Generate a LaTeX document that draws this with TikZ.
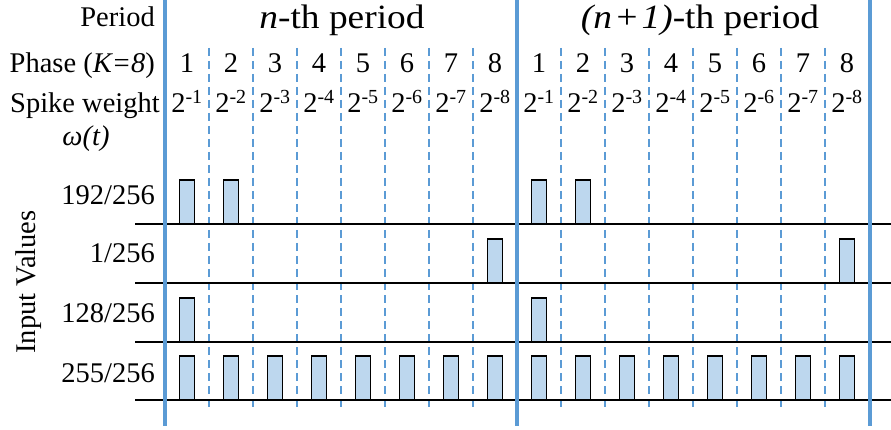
\documentclass[tikz,border=0pt]{standalone}
\usepackage{fontspec}
\setmainfont{Liberation Serif}
\definecolor{pblue}{HTML}{5B9BD5}
\definecolor{barfill}{HTML}{BDD7EE}
\newcommand{\spk}[2]{\draw[spike] ({#1-7.5},#2) rectangle ({#1+7.5},{#2-44});}
\begin{document}
\begin{tikzpicture}[x=1pt,y=-1pt,
  lbl/.style={font=\fontsize{28.5}{32}\selectfont, inner sep=0pt},
  big/.style={font=\fontsize{34}{38}\selectfont, inner sep=0pt},
  periodline/.style={pblue, line width=4pt},
  phaseline/.style={pblue, line width=2.2pt, dash pattern=on 8pt off 5pt},
  axisline/.style={black, line width=2pt},
  spike/.style={draw=black, line width=1.6pt, fill=barfill}]
\useasboundingbox (0,0) rectangle (891,430);
% phase separators
\foreach \p in {0,1}{
  \foreach \k in {1,...,7}{
    \draw[phaseline] ({165+352*\p+44*\k},48) -- ++(0,362);
  }
}
% signal axes
\foreach \b in {224,283,342,400}{
  \draw[axisline] (135,\b) -- (891,\b);
}
% spikes
\foreach \p in {0,1}{
  \pgfmathsetmacro{\xo}{165+352*\p}
  \foreach \k in {1,2}{\spk{\xo+44*\k-22}{224}}
  \spk{\xo+44*8-22}{283}
  \spk{\xo+22}{342}
  \foreach \k in {1,...,8}{\spk{\xo+44*\k-22}{400}}
}
% period lines
\foreach \xx in {165,517,870}{
  \draw[periodline] (\xx,0) -- (\xx,426);
}
% header texts
\node[lbl,anchor=base east] (per) at (155,27) {Period};
\node[big,anchor=base] (np) at (342,29) {\scalebox{1.1}[1]{\textit{n}-th period}};
\node[big,anchor=base] (n1p) at (700,29) {\scalebox{1.1}[1]{\textit{(n\kern2pt+\kern2pt1)}-th period}};
\node[lbl,anchor=base east] (pha) at (155,73) {Phase (\textit{K=8})};
\node[lbl,anchor=base east] (spw) at (160,113) {Spike weight};
\node[lbl,anchor=base] (om) at (86,146) {\textit{ω(t)}};
\foreach \p in {0,1}{
  \foreach \k in {1,...,8}{
    \node[lbl,anchor=base] (ph\p\k) at ({165+352*\p+44*\k-22},73) {\k};
    \node[lbl,anchor=base] (sw\p\k) at ({165+352*\p+44*\k-22},113) {2\textsuperscript{-\k}};
  }
}
% row labels
\node[lbl,anchor=base east] (r1) at (155,205) {192/256};
\node[lbl,anchor=base east] (r2) at (155,263) {1/256};
\node[lbl,anchor=base east] (r3) at (155,322) {128/256};
\node[lbl,anchor=base east] (r4) at (155,382) {255/256};
\node[lbl,anchor=base,rotate=90] (iv) at (35,282) {Input Values};
\end{tikzpicture}
\end{document}
